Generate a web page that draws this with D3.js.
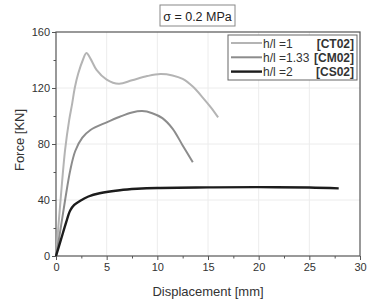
<!DOCTYPE html>
<html>
<head>
<meta charset="utf-8">
<script src="https://cdn.jsdelivr.net/npm/d3@7"></script>
<style>
  body { margin: 0; background: #fff; }
  svg { font-family: "Liberation Sans", Arial, sans-serif; }
</style>
</head>
<body>
<script>
// values
const ct02 = [[0,0],[0.45,40],[0.9,76],[1.3,97],[1.6,109],[1.85,120],[2.2,130.5],[2.65,140],[3,145],[3.4,141],[4,133],[5,126],[6.2,123],[7.5,125.5],[9,128.5],[10.3,130],[11.5,129],[12.5,126.5],[13.5,121],[14.5,113],[15.3,106],[16,99]];
const cm02 = [[0,0],[0.4,17],[0.9,40],[1.4,61],[1.9,75],[2.6,84.5],[3.4,90],[5,95.5],[6.3,99.5],[7.5,102.5],[8.5,103.5],[9.5,102],[10.5,98.5],[11.5,91],[12.5,79],[13.5,67]];
const cs02 = [[0,0],[0.5,12],[1,24],[1.4,32.5],[1.8,36.5],[2.4,39.5],[3.2,42.5],[4.3,44.8],[6.3,47],[8,48],[10,48.6],[15,49],[20,49.2],[25,48.9],[27.9,48.3]];
const seriesNames = ['h/l =1', 'h/l =1.33', 'h/l =2'];
const seriesCodes = ['[CT02]', '[CM02]', '[CS02]'];
const xTicks = [0, 5, 10, 15, 20, 25, 30];
const yTicks = [0, 40, 80, 120, 160];

const w = 370, h = 301;
const m = {left: 56, right: 10, top: 32, bottom: 45};
const svg = d3.select('body').append('svg')
              .attr('width', w)
              .attr('height', h);

const x = d3.scaleLinear().domain([0, 30]).range([m.left, w - m.right]);
const y = d3.scaleLinear().domain([0, 160]).range([h - m.bottom, m.top]);

// faint grid
svg.append('g').selectAll('line')
   .data(xTicks.slice(1, -1))
   .enter().append('line')
   .attr('x1', d => x(d)).attr('x2', d => x(d))
   .attr('y1', y(0)).attr('y2', y(160))
   .attr('stroke', '#ececec').attr('stroke-width', 1);
svg.append('g').selectAll('line')
   .data(yTicks.slice(1, -1))
   .enter().append('line')
   .attr('x1', x(0)).attr('x2', x(30))
   .attr('y1', d => y(d)).attr('y2', d => y(d))
   .attr('stroke', '#ececec').attr('stroke-width', 1);

// axes
const xAxis = d3.axisBottom(x).tickValues(xTicks).tickSize(4).tickPadding(3);
const yAxis = d3.axisLeft(y).tickValues(yTicks).tickSize(4).tickPadding(2);
const gx = svg.append('g').attr('transform', `translate(0,${y(0)})`).call(xAxis);
const gy = svg.append('g').attr('transform', `translate(${x(0)},0)`).call(yAxis);
const gxm = svg.append('g').attr('transform', `translate(0,${y(0)})`)
               .call(d3.axisBottom(x).tickValues(d3.range(2.5, 30, 5)).tickSize(2.5).tickFormat(''));
const gym = svg.append('g').attr('transform', `translate(${x(0)},0)`)
               .call(d3.axisLeft(y).tickValues([20, 60, 100, 140]).tickSize(2.5).tickFormat(''));
[gx, gy, gxm, gym].forEach(g => {
  g.select('.domain').remove();
  g.selectAll('line').attr('stroke', '#555');
  g.selectAll('text').attr('fill', '#333').style('font-size', '11px');
});

// frame
svg.append('rect')
   .attr('x', x(0)).attr('y', y(160))
   .attr('width', x(30) - x(0)).attr('height', y(0) - y(160))
   .attr('fill', 'none').attr('stroke', '#555').attr('stroke-width', 1.2);

// curves
const line = d3.line().x(d => x(d[0])).y(d => y(d[1])).curve(d3.curveCatmullRom.alpha(0.5));
const colors = ['#b4b4b4', '#8c8c8c', '#1c1c1c'];
const widths = [2, 2, 2.4];
[ct02, cm02, cs02].forEach((s, i) => {
  svg.append('path')
     .datum(s)
     .attr('d', line)
     .attr('fill', 'none')
     .attr('stroke', colors[i])
     .attr('stroke-width', widths[i])
     .attr('stroke-linejoin', 'round');
});

// axis titles
svg.append('text')
   .attr('x', (x(0) + x(30)) / 2).attr('y', 296)
   .attr('text-anchor', 'middle')
   .style('font-size', '13px').attr('fill', '#333')
   .text('Displacement [mm]');
svg.append('text')
   .attr('transform', `translate(24,${(y(0) + y(160)) / 2 - 4}) rotate(-90)`)
   .attr('text-anchor', 'middle')
   .style('font-size', '13px').attr('fill', '#333')
   .text('Force [KN]');

// title box
svg.append('rect')
   .attr('x', 160).attr('y', 5).attr('width', 75).attr('height', 21)
   .attr('fill', '#fff').attr('stroke', '#888').attr('stroke-width', 1);
svg.append('text')
   .attr('x', 197.5).attr('y', 20.5)
   .attr('text-anchor', 'middle')
   .style('font-size', '12.5px').attr('fill', '#222')
   .text('σ = 0.2 MPa');

// legend
const legend = svg.append('g').attr('transform', 'translate(228,35)');
legend.append('rect')
      .attr('width', 129).attr('height', 45)
      .attr('fill', '#fff').attr('stroke', '#666').attr('stroke-width', 1);
seriesNames.forEach((n, i) => {
  const ry = 8 + i * 14.3;
  legend.append('line')
        .attr('x1', 3).attr('x2', 34).attr('y1', ry).attr('y2', ry)
        .attr('stroke', colors[i]).attr('stroke-width', widths[i]);
  legend.append('text')
        .attr('x', 35).attr('y', ry + 4.5)
        .style('font-size', '12px').attr('fill', '#333')
        .text(n);
  legend.append('text')
        .attr('x', 126).attr('y', ry + 4.5)
        .attr('text-anchor', 'end')
        .style('font-size', '12px').style('font-weight', 'bold').attr('fill', '#333')
        .text(seriesCodes[i]);
});
</script>
</body>
</html>
